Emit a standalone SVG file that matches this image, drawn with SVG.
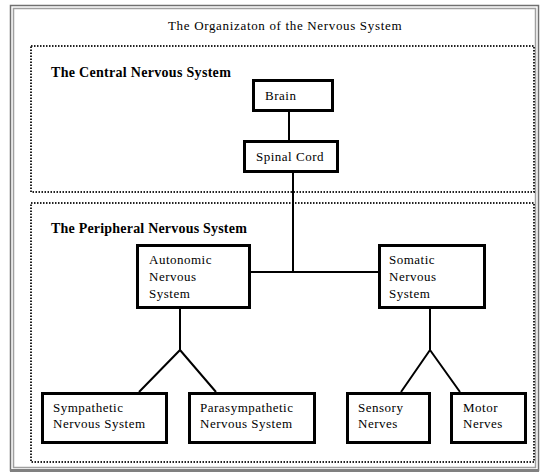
<svg xmlns="http://www.w3.org/2000/svg" width="544" height="473" viewBox="0 0 544 473">
<style>
text{font-family:"Liberation Serif","Times New Roman",serif;font-size:13px;fill:#000;letter-spacing:0.5px}
.h{font-size:14px;font-weight:bold;letter-spacing:0.2px}
.box{fill:#fff;stroke:#000;stroke-width:3}
.grp{fill:none;stroke:#222;stroke-width:2;stroke-dasharray:1.5 1.5}
.con{stroke:#000;stroke-width:2;fill:none}
</style>
<rect x="0" y="0" width="544" height="473" fill="#fff"/>
<rect x="10.5" y="5.5" width="528" height="465" fill="none" stroke="#707070" stroke-width="1.5"/>
<rect x="13.5" y="8.5" width="522" height="459" fill="none" stroke="#a0a0a0" stroke-width="1.5"/>
<line x1="10" y1="470.5" x2="539" y2="470.5" stroke="#808080" stroke-width="3"/>
<text x="168" y="30" textLength="234" lengthAdjust="spacing">The Organizaton of the Nervous System</text>
<g id="cns">
<rect class="grp" x="31" y="46" width="503" height="146"/>
<text class="h" x="51" y="77" textLength="180" lengthAdjust="spacing">The Central Nervous System</text>
</g>
<g id="pns">
<rect class="grp" x="31" y="203" width="503" height="259"/>
<text class="h" x="51" y="233" textLength="196" lengthAdjust="spacing">The Peripheral Nervous System</text>
</g>
<g id="connectors">
<path class="con" d="M289 112V140"/>
<path class="con" d="M293 173V272"/>
<path class="con" d="M251 272H378"/>
<path class="con" d="M180 309V350L139 392M180 350L216 392"/>
<path class="con" d="M430 309V350L401 392M430 350L460 392"/>
</g>
<g id="brain">
<rect class="box" x="253.5" y="80.5" width="79" height="30"/>
<text x="265" y="100">Brain</text>
</g>
<g id="spinal-cord">
<rect class="box" x="244.5" y="141.5" width="93" height="30"/>
<text x="256" y="161">Spinal Cord</text>
</g>
<g id="autonomic">
<rect class="box" x="137.5" y="245.5" width="112" height="62"/>
<text x="149" y="264">Autonomic</text>
<text x="149" y="281">Nervous</text>
<text x="149" y="298">System</text>
</g>
<g id="somatic">
<rect class="box" x="379.5" y="245.5" width="105" height="62"/>
<text x="389" y="264">Somatic</text>
<text x="389" y="281">Nervous</text>
<text x="389" y="298">System</text>
</g>
<g id="sympathetic">
<rect class="box" x="42.5" y="393.5" width="124" height="49"/>
<text x="53" y="412">Sympathetic</text>
<text x="53" y="428">Nervous System</text>
</g>
<g id="parasympathetic">
<rect class="box" x="189.5" y="393.5" width="125" height="49"/>
<text x="200" y="412">Parasympathetic</text>
<text x="200" y="428">Nervous System</text>
</g>
<g id="sensory">
<rect class="box" x="347.5" y="393.5" width="82" height="49"/>
<text x="358" y="412">Sensory</text>
<text x="358" y="428">Nerves</text>
</g>
<g id="motor">
<rect class="box" x="451.5" y="393.5" width="74" height="49"/>
<text x="463" y="412">Motor</text>
<text x="463" y="428">Nerves</text>
</g>
</svg>
